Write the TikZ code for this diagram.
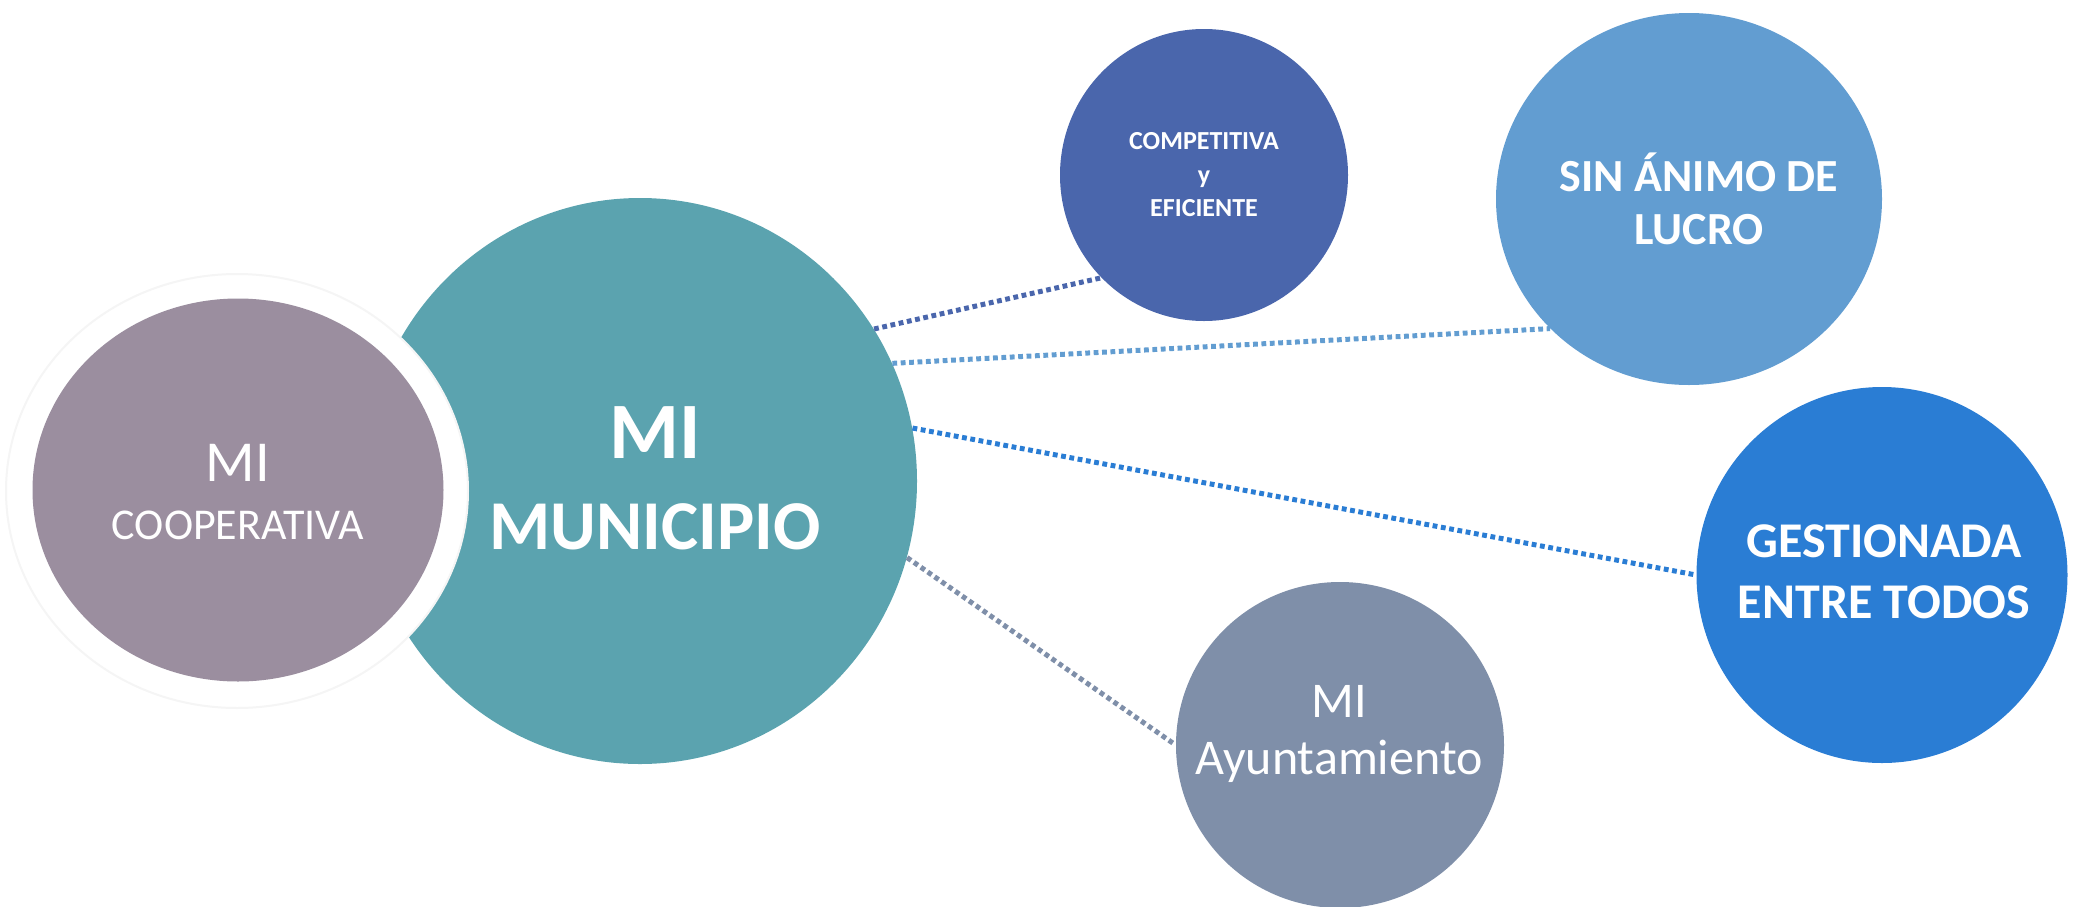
\documentclass[tikz,border=0pt]{standalone}
\usepackage{fontspec}
\setmainfont{Carlito}
\usetikzlibrary{shapes.geometric}

\definecolor{muniteal}{RGB}{91,163,175}
\definecolor{coopmauve}{RGB}{155,142,159}
\definecolor{compblue}{RGB}{74,102,172}
\definecolor{lucroblue}{RGB}{98,157,209}
\definecolor{gestblue}{RGB}{42,125,212}
\definecolor{aytogrey}{RGB}{127,143,169}

\tikzset{
  bubble/.style={ellipse, inner sep=0pt, draw=none},
  link/.style={line width=2.5pt, dash pattern={on 2.4pt off 1.8pt}},
  txt/.style={text=white, align=center, inner sep=0pt}
}

\begin{document}
\begin{tikzpicture}[x=0.5pt,y=0.5pt,yscale=-1,xscale=1]
        \useasboundingbox (0,0) rectangle (2078,906);
        
        %Shape: Ellipse [mi municipio]
        \node (muni) [bubble, fill=muniteal, minimum width=277pt, minimum height=283pt] at (640,481) {};
        %Shape: Ellipse [white ring]
        \node (ring) [bubble, fill=white, draw=black!4, line width=1pt, minimum width=231pt, minimum height=217pt] at (237,491) {};
        %Shape: Ellipse [mi cooperativa]
        \node (coop) [bubble, fill=coopmauve, minimum width=205.5pt, minimum height=191.5pt] at (238,490) {};
        %Shape: Ellipse [competitiva]
        \node (comp) [bubble, fill=compblue, minimum width=144pt, minimum height=146pt] at (1204,175) {};
        %Shape: Ellipse [sin animo]
        \node (lucro) [bubble, fill=lucroblue, minimum width=193pt, minimum height=186pt] at (1689,199) {};
        %Shape: Ellipse [gestionada]
        \node (gest) [bubble, fill=gestblue, minimum width=185.5pt, minimum height=188pt] at (1882,575) {};
        %Shape: Ellipse [ayuntamiento]
        \node (ayto) [bubble, fill=aytogrey, minimum width=164pt, minimum height=163pt] at (1340,745) {};
        
        %Straight Lines
        \draw [link, draw=compblue] (muni.33.9) -- (comp.225);
        \draw [link, draw=lucroblue] (muni.25.6) -- (lucro.223.5);
        \draw [link, draw=gestblue] (muni.11.6) -- (gest.180);
        \draw [link, draw=aytogrey] (muni.344.3) -- (ayto.180);
        
        % Text Node
        \node (munitxt) [txt, font=\bfseries\fontsize{35}{45.5}\selectfont] at (655,478) {{\fontsize{40}{45.5}\selectfont MI}\\MUNICIPIO};
        % Text Node
        \node (cooptxt) [txt, font=\fontsize{22}{29}\selectfont] at (238,492) {{\fontsize{29}{29}\selectfont MI}\\COOPERATIVA};
        % Text Node
        \node (comptxt) [txt, font=\bfseries\fontsize{13}{16.75}\selectfont] at (1204,175) {COMPETITIVA\\y\\EFICIENTE};
        % Text Node
        \node (lucrotxt) [txt, font=\bfseries\fontsize{23}{26.5}\selectfont] at (1699,199) {SIN ÁNIMO DE\\LUCRO};
        % Text Node
        \node (gesttxt) [txt, font=\bfseries\fontsize{25}{30.5}\selectfont] at (1884,572) {GESTIONADA\\ENTRE TODOS};
        % Text Node
        \node (aytotxt) [txt, font=\fontsize{25}{28.5}\selectfont] at (1339,734) {MI\\Ayuntamiento};
        
\end{tikzpicture}
\end{document}
